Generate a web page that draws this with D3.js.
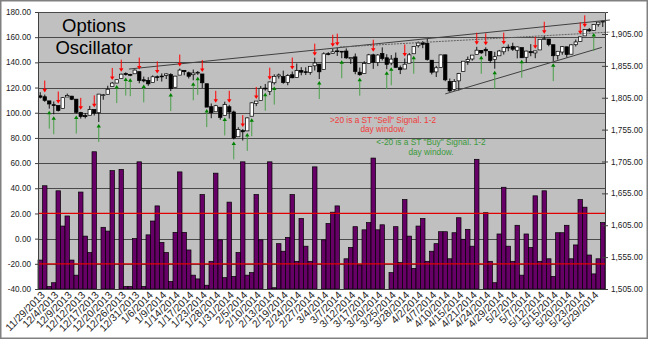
<!DOCTYPE html>
<html><head><meta charset="utf-8">
<script src="https://cdn.jsdelivr.net/npm/d3@7"></script>
<style>
body{margin:0;background:#fff}
svg{display:block}
text{font-family:"Liberation Sans",Arial,sans-serif}
</style>
</head><body>
<svg id="c" width="648" height="340"></svg>
<script>
// ---------- DATA ----------
const dates = ["11/29/2013","12/2/2013","12/3/2013","12/4/2013","12/5/2013","12/6/2013","12/9/2013","12/10/2013","12/11/2013","12/12/2013","12/13/2013","12/16/2013","12/17/2013","12/18/2013","12/19/2013","12/20/2013","12/23/2013","12/24/2013","12/26/2013","12/27/2013","12/30/2013","12/31/2013",
"1/2/2014","1/3/2014","1/6/2014","1/7/2014","1/8/2014","1/9/2014","1/10/2014","1/13/2014","1/14/2014","1/15/2014","1/16/2014","1/17/2014","1/21/2014","1/22/2014","1/23/2014","1/24/2014","1/27/2014","1/28/2014","1/29/2014","1/30/2014","1/31/2014",
"2/3/2014","2/4/2014","2/5/2014","2/6/2014","2/7/2014","2/10/2014","2/11/2014","2/12/2014","2/13/2014","2/14/2014","2/18/2014","2/19/2014","2/20/2014","2/21/2014","2/24/2014","2/25/2014","2/26/2014","2/27/2014","2/28/2014",
"3/3/2014","3/4/2014","3/5/2014","3/6/2014","3/7/2014","3/10/2014","3/11/2014","3/12/2014","3/13/2014","3/14/2014","3/17/2014","3/18/2014","3/19/2014","3/20/2014","3/21/2014","3/24/2014","3/25/2014","3/26/2014","3/27/2014","3/28/2014","3/31/2014",
"4/1/2014","4/2/2014","4/3/2014","4/4/2014","4/7/2014","4/8/2014","4/9/2014","4/10/2014","4/11/2014","4/14/2014","4/15/2014","4/16/2014","4/17/2014","4/21/2014","4/22/2014","4/23/2014","4/24/2014","4/25/2014","4/28/2014","4/29/2014","4/30/2014",
"5/1/2014","5/2/2014","5/5/2014","5/6/2014","5/7/2014","5/8/2014","5/9/2014","5/12/2014","5/13/2014","5/14/2014","5/15/2014","5/16/2014","5/19/2014","5/20/2014","5/21/2014","5/22/2014","5/23/2014","5/27/2014","5/28/2014","5/29/2014","5/30/2014","6/2/2014"];

const oscillator = [-17,42,-38,-35,38,10,18,-17,-29,37,2,-11,69,-40,9,6,54,-40,55,-38,-38,0,61,-38,3,14,26,-3,-11,-34,
5,53,5,-9,-29,-32,35,-37,-18,52,-1,-31,29,-30,-11,61,-29,-27,35,-1,-40,61,-39,-4,-10,1,35,-18,16,-6,
-18,57,-40,-1,12,21,26,-40,-16,-7,9.5,-21,7,12.7,64,7,11,-40,-27,9.5,-19,31,2,-23.6,10,16,-18,-10,-4,5.5,
5.5,-16,4.7,16.6,-0.5,7.4,-6,63,-40,20.6,-18,-35,3.7,40.8,-6,-18,10.6,-29,3.7,-7,34,-18,38,-16,-30,4.7,
4.7,10.6,-16,-5,31,25,-13,-28,-16,12.7];

const spxOpen = [1808.0,1806.6,1800.1,1794.1,1792.8,1788.4,1806.2,1807.5,1802.8,1781.7,1777.0,1777.5,1786.5,1781.5,1809.0,1810.4,1822.9,1828.0,1835.0,1843.0,1841.5,1842.6,
1845.9,1833.2,1832.3,1828.7,1837.9,1839.0,1840.1,1841.3,1821.4,1840.5,1848.0,1844.2,1841.1,1844.7,1842.3,1827.0,1791.0,1783.0,1790.2,1777.2,1790.9,
1782.7,1743.8,1753.4,1753.0,1776.0,1796.2,1800.5,1820.1,1814.8,1828.5,1839.0,1838.2,1829.2,1841.1,1836.8,1847.7,1845.8,1844.9,1855.1,
1857.7,1849.2,1874.1,1874.2,1878.5,1877.9,1878.3,1866.2,1869.1,1845.1,1842.8,1858.9,1872.3,1860.1,1874.5,1867.7,1859.5,1867.1,1852.1,1850.1,1859.2,
1874.0,1886.6,1891.4,1890.3,1863.9,1845.5,1852.6,1872.3,1830.7,1818.2,1831.5,1846.0,1861.7,1865.8,1872.6,1879.3,1881.0,1877.7,1865.0,1870.8,1877.1,
1884.4,1885.3,1879.5,1883.7,1868.5,1877.4,1875.3,1880.0,1896.8,1897.1,1888.2,1871.2,1876.7,1884.9,1873.3,1888.2,1893.3,1902.0,1911.8,1910.6,1920.3,1923.9];
const spxHigh = [1813.6,1810.0,1800.1,1799.2,1792.8,1806.0,1811.5,1808.0,1803.0,1782.9,1780.9,1792.2,1786.8,1811.1,1810.9,1823.8,1829.8,1833.3,1842.8,1844.9,1842.5,1849.4,
1846.0,1838.2,1837.2,1840.1,1840.0,1843.2,1843.2,1843.5,1839.3,1850.8,1848.0,1846.0,1849.3,1846.9,1842.3,1827.0,1796.0,1793.9,1790.2,1798.8,1793.9,
1784.8,1758.7,1755.8,1774.1,1798.0,1799.9,1823.5,1826.6,1830.2,1841.7,1842.9,1847.5,1842.1,1846.1,1858.7,1852.9,1852.7,1854.5,1867.9,
1857.7,1876.2,1876.5,1881.9,1883.6,1877.9,1882.4,1868.4,1874.4,1852.4,1862.3,1873.8,1874.1,1873.5,1884.0,1873.3,1871.9,1875.9,1855.6,1866.6,1875.2,
1885.8,1893.2,1893.8,1897.3,1864.0,1855.0,1872.4,1872.5,1835.1,1834.2,1844.0,1862.3,1869.6,1871.9,1884.9,1879.8,1884.1,1877.7,1877.0,1880.0,1885.2,
1888.6,1891.3,1885.5,1883.7,1878.8,1889.1,1878.6,1897.1,1902.2,1897.1,1888.2,1878.3,1886.0,1884.9,1888.8,1896.3,1901.3,1912.3,1914.5,1920.0,1924.0,1925.9];
const spxLow = [1803.9,1798.6,1787.9,1779.1,1783.4,1788.4,1806.2,1801.3,1780.1,1772.3,1772.5,1777.5,1777.2,1767.0,1801.9,1810.4,1822.9,1828.0,1835.0,1839.8,1838.8,1842.4,
1827.7,1829.1,1823.7,1828.7,1831.4,1830.4,1834.4,1815.5,1821.4,1840.5,1840.3,1835.2,1832.4,1840.9,1820.1,1790.3,1772.9,1783.0,1770.5,1777.2,1772.3,
1739.7,1743.8,1737.9,1753.0,1776.0,1791.8,1800.5,1816.0,1809.2,1825.6,1835.0,1827.0,1824.6,1835.6,1836.8,1840.2,1840.7,1841.1,1847.7,
1834.4,1849.2,1871.6,1874.2,1870.6,1867.0,1866.1,1858.0,1841.9,1839.6,1842.8,1858.9,1850.3,1854.6,1863.5,1849.7,1856.0,1852.6,1842.1,1850.1,1859.2,
1874.0,1883.8,1882.7,1863.3,1841.5,1837.5,1852.4,1830.9,1814.4,1815.8,1816.3,1846.0,1856.7,1863.2,1872.6,1873.9,1870.2,1859.7,1850.6,1870.8,1872.7,
1878.0,1878.5,1866.8,1867.7,1859.8,1870.1,1867.0,1880.0,1896.1,1885.8,1862.4,1864.8,1872.4,1868.1,1873.3,1885.4,1893.3,1902.0,1908.5,1909.8,1916.6,1916.0];
const spxClose = [1805.8,1800.9,1795.2,1792.8,1785.0,1805.1,1808.4,1802.6,1782.2,1775.5,1775.3,1786.5,1781.0,1810.7,1809.6,1818.3,1828.0,1833.3,1842.0,1841.4,1841.1,1848.4,
1832.0,1831.4,1826.8,1837.9,1837.5,1838.1,1842.4,1819.2,1838.9,1848.4,1845.9,1838.7,1843.8,1844.9,1828.5,1790.3,1781.6,1792.5,1774.2,1794.2,1782.6,
1741.9,1755.2,1751.6,1773.4,1797.0,1799.8,1819.8,1819.3,1829.8,1838.6,1840.8,1828.8,1839.8,1836.3,1847.6,1845.1,1845.2,1854.3,1859.5,
1845.7,1873.9,1873.8,1877.0,1878.0,1877.2,1867.6,1868.2,1846.3,1841.1,1858.8,1872.3,1860.8,1872.0,1866.5,1857.4,1865.6,1852.6,1849.0,1857.6,1872.3,
1885.5,1890.9,1888.8,1865.1,1845.0,1852.0,1872.2,1833.1,1815.7,1830.6,1843.0,1862.3,1864.9,1871.9,1879.6,1875.4,1878.6,1863.4,1869.4,1878.3,1884.0,
1883.7,1881.1,1884.7,1867.7,1878.2,1875.6,1878.5,1896.7,1897.5,1888.5,1870.9,1877.9,1885.1,1872.8,1888.0,1892.5,1900.5,1911.9,1909.8,1920.0,1923.6,1925.0];

const leftTicks = [-40,-20,0,20,40,60,80,100,120,140,160,180];
const rightTicks = [1505,1555,1605,1655,1705,1755,1805,1855,1905];
const labelEvery = 3;
const signalLevels = [20,-20];
// trend lines: [startIndex, startPrice, endIndex, endPrice]
const trendUpper = [19.7,1850,126.6,1927];
const trendMid = [66.6,1884.6,126.6,1908];
const trendLower = [90,1811,124.8,1884];
const titleLines = ["Options","Oscillator"];
const sellNote = [">20 is a ST \"Sell\" Signal.  1-2","day window."];
const buyNote = ["<-20 is a ST \"Buy\" Signal.  1-2","day window."];

// ---------- CHART ----------
const svg = d3.select("#c");
const P = {left:38, right:605, top:12, bottom:289};
const x = d3.scaleBand().domain(dates).range([P.left,P.right]).padding(0);
const bw = x.bandwidth();
const yL = d3.scaleLinear().domain([-40,180]).range([P.bottom,P.top]);
const yR = d3.scaleLinear().domain([1505,1939.5]).range([P.bottom,P.top]);
const xi = d3.scaleLinear().domain([0,dates.length-1]).range([x(dates[0])+bw/2, x(dates[dates.length-1])+bw/2]);
const fmtL = v => d3.format(".2f")(v).replace("\u2212","-");
const fmtR = v => d3.format(",.2f")(v);

svg.append("rect").attr("x",0.75).attr("y",0.75).attr("width",646.5).attr("height",337.5)
  .attr("fill","#fff").attr("stroke","#808080").attr("stroke-width",1.5);
svg.append("rect").attr("x",P.left).attr("y",P.top).attr("width",P.right-P.left).attr("height",P.bottom-P.top)
  .attr("fill","#c0c0c0");

// gridlines
svg.append("g").selectAll("line").data(leftTicks).join("line")
  .attr("x1",P.left).attr("x2",P.right).attr("y1",d=>Math.round(yL(d))+0.5).attr("y2",d=>Math.round(yL(d))+0.5)
  .attr("stroke","#4a4a4a").attr("stroke-width",1);

// oscillator bars
svg.append("g").selectAll("rect").data(oscillator).join("rect")
  .attr("x",(d,i)=>x(dates[i])).attr("width",bw)
  .attr("y",d=>yL(d)).attr("height",d=>P.bottom-yL(d))
  .attr("fill","#660066").attr("stroke","#000").attr("stroke-width",0.7);

// signal lines
svg.append("g").selectAll("line").data(signalLevels).join("line")
  .attr("x1",P.left).attr("x2",P.right).attr("y1",d=>yL(d)).attr("y2",d=>yL(d))
  .attr("stroke","#e00000").attr("stroke-width",1.3);

// candles
const cg = svg.append("g");
dates.forEach((d,i)=>{
  const cx = x(d)+bw/2;
  const o=spxOpen[i], c=spxClose[i], h=spxHigh[i], l=spxLow[i];
  cg.append("line").attr("x1",cx).attr("x2",cx).attr("y1",yR(h)).attr("y2",yR(l)).attr("stroke","#000").attr("stroke-width",0.9);
  const top = yR(Math.max(o,c)), bot = yR(Math.min(o,c));
  cg.append("rect").attr("x",cx-1.7).attr("width",3.4).attr("y",top).attr("height",Math.max(0.8,bot-top))
    .attr("fill", c>=o ? "#fff" : "#000").attr("stroke","#000").attr("stroke-width",0.7);
});

// trend lines
[[trendUpper,null,"#404040"],[trendMid,"2,1","#606060"],[trendLower,null,"#404040"]].forEach(([t,dash,col])=>{
  svg.append("line").attr("x1",xi(t[0])).attr("y1",yR(t[1])).attr("x2",xi(t[2])).attr("y2",yR(t[3]))
    .attr("stroke",col).attr("stroke-width",1).attr("stroke-dasharray",dash);
});

// signal arrows
const ag = svg.append("g");
oscillator.forEach((v,i)=>{
  const cx = x(dates[i])+bw/2;
  if (v>20){
    const tip = yR(spxHigh[i])-2;
    ag.append("line").attr("x1",cx).attr("x2",cx).attr("y1",tip-12).attr("y2",tip-3).attr("stroke","#ff0000").attr("stroke-width",1);
    ag.append("path").attr("d",`M${cx-2.2},${tip-3.5}L${cx+2.2},${tip-3.5}L${cx},${tip}Z`).attr("fill","#ff0000");
  } else if (v<-20){
    const tip = yR(spxLow[i])+2;
    ag.append("line").attr("x1",cx).attr("x2",cx).attr("y1",tip+3).attr("y2",tip+18).attr("stroke","#4aa04a").attr("stroke-width",1);
    ag.append("path").attr("d",`M${cx-2.2},${tip+3.5}L${cx+2.2},${tip+3.5}L${cx},${tip}Z`).attr("fill","#008000");
  }
});

// axes
const axL = svg.append("g").attr("transform",`translate(${P.left},0)`)
  .call(d3.axisLeft(yL).tickValues(leftTicks).tickFormat(fmtL).tickSize(3).tickPadding(4));
const axR = svg.append("g").attr("transform",`translate(${P.right},0)`)
  .call(d3.axisRight(yR).tickValues(rightTicks).tickFormat(fmtR).tickSize(3).tickPadding(3));
axR.selectAll(".tick line").attr("x1",-3);
const axB = svg.append("g").attr("transform",`translate(0,${P.bottom})`)
  .call(d3.axisBottom(x).tickValues(dates.filter((d,i)=>i%labelEvery===0)).tickSize(0));
[axL,axR,axB].forEach(a=>{
  a.select(".domain").attr("stroke","#404040");
  a.selectAll(".tick line").attr("stroke","#404040");
  a.selectAll("text").attr("fill","#222").style("font-size","8.2px").style("font-family","'Liberation Sans',Arial,sans-serif");
});
axB.selectAll("text").style("font-size","10.3px")
  .attr("x",-1).attr("y",5).attr("dy","0.35em")
  .attr("transform","rotate(-45)").style("text-anchor","end");

// title
svg.append("g").selectAll("text").data(titleLines).join("text")
  .attr("x",94).attr("y",(d,i)=>32+i*21.5).attr("text-anchor","middle")
  .style("font-size","18.5px").attr("fill","#000").text(d=>d);

// notes
svg.append("g").selectAll("text").data(sellNote).join("text")
  .attr("x",383).attr("y",(d,i)=>122.5+i*9.5).attr("text-anchor","middle")
  .style("font-size","8.3px").attr("fill","#f03a3a").text(d=>d);
svg.append("g").selectAll("text").data(buyNote).join("text")
  .attr("x",431).attr("y",(d,i)=>145+i*9.5).attr("text-anchor","middle")
  .style("font-size","8.3px").attr("fill","#3a9a3a").text(d=>d);
</script>
</body></html>
